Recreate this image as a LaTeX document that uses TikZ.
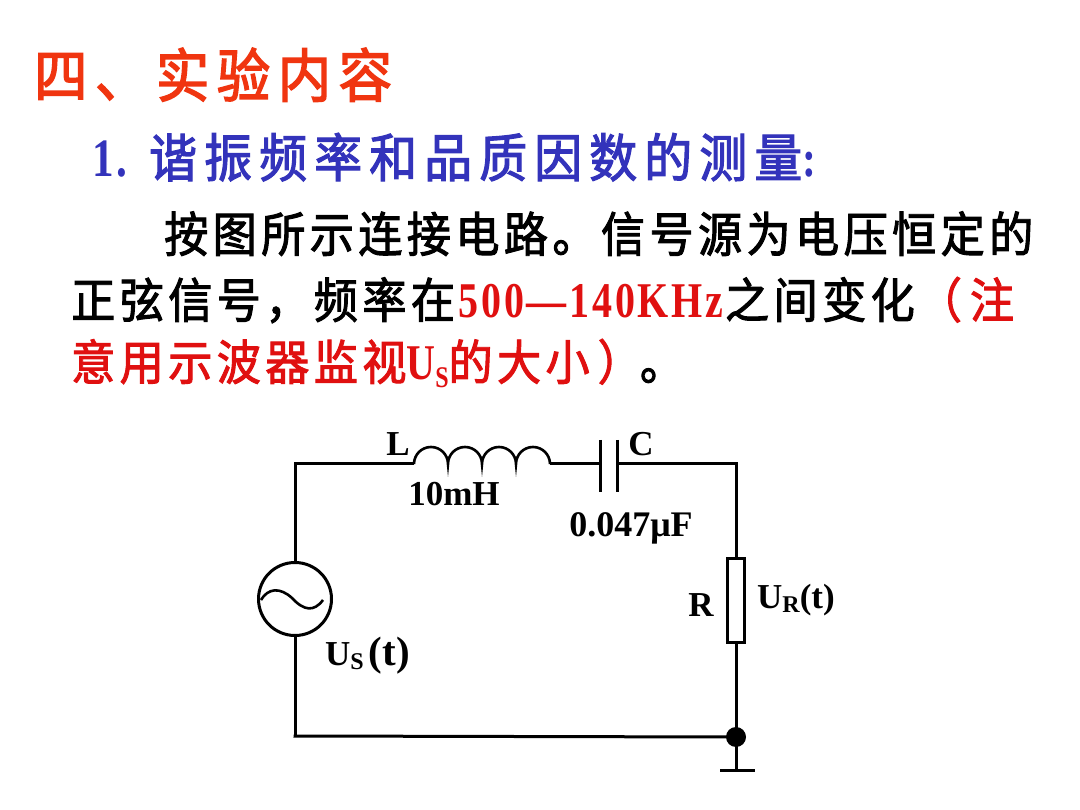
\documentclass[tikz,border=0pt]{standalone}
\usepackage{fontspec}
\setmainfont{Liberation Serif}
\newfontfamily\cjkT[FakeStretch=0.92,FakeBold=2.5,LetterSpace=13]{Noto Sans CJK SC}
\newfontfamily\cjkH[FakeStretch=0.92,FakeBold=2.2,LetterSpace=13.8]{Noto Sans CJK SC}
\newfontfamily\cjkB[FakeStretch=0.92,FakeBold=2.0,LetterSpace=9.1]{Noto Sans CJK SC}
\newfontfamily\latn[FakeStretch=0.8,LetterSpace=5.5]{Liberation Serif}
\definecolor{titlered}{HTML}{F03510}
\definecolor{headblue}{HTML}{3333BB}
\definecolor{notered}{HTML}{E01010}
\tikzset{
  wire/.style={line width=3pt,black},
  part/.style={line width=3pt,black,fill=white},
  lab/.style={font=\fontsize{35}{38}\selectfont\bfseries,inner sep=0pt,text=black},
  txt/.style={anchor=base west,inner sep=0pt},
}
\begin{document}
\begin{tikzpicture}[x=1pt,y=-1pt]
\useasboundingbox[fill=white] (0,0) rectangle (1080,810);
% text lines
\node[txt,text=titlered] (title) at (34,97) {\fontsize{58}{60}\selectfont\cjkT 四、实验内容};
\node[txt,text=headblue] (head) at (92,177) {\makebox[57pt][l]{\fontsize{54}{50}\selectfont\latn\bfseries 1.}\fontsize{52}{55}\selectfont\cjkH 谐振频率和品质因数的测量\makebox[10pt][l]{\latn\bfseries\hspace{0pt}:}};
\node[txt,text=black] (l1) at (164,252) {\fontsize{48}{50}\selectfont\cjkB 按图所示连接电路。信号源为电压恒定的};
\node[txt,text=black] (l2) at (71,318) {\fontsize{48}{50}\selectfont\cjkB 正弦信号，频率在\hspace{4pt}\makebox[264pt][c]{\fontsize{50}{50}\selectfont\color{notered}\latn\bfseries 500—140KHz}\hspace{2pt}之间变化\textcolor{notered}{\hspace{3pt}（\hspace{8pt}注}};
\node[txt,text=notered] (l3) at (71,380) {\fontsize{48}{50}\selectfont\cjkB 意用示波器监视\makebox[42pt][l]{\fontsize{50}{50}\selectfont\latn\bfseries U\raisebox{-8pt}{\fontsize{30}{30}\selectfont S}}的大小\hspace{8pt}）\hspace{-2pt}\textcolor{black}{。}};
% circuit nodes
\coordinate (tl) at (295,464);
\coordinate (tr) at (736,464);
\coordinate (bl) at (295,736);
\coordinate (indA) at (414,464);
\coordinate (indB) at (550,464);
\coordinate (capA) at (600,464);
\coordinate (capB) at (617,464);
\coordinate (capAt) at (600,440);
\coordinate (capAb) at (600,492);
\coordinate (capBt) at (617,440);
\coordinate (capBb) at (617,492);
\coordinate (gnd) at (736,770);
\coordinate (gndL) at (720,770);
\coordinate (gndR) at (755,770);
\node[draw,part,circle,minimum size=73pt,inner sep=0pt] (src) at (295,599) {};
\node[draw,part,rectangle,minimum width=17pt,minimum height=84pt,inner sep=0pt] (res) at (736,600) {};
\node[circle,fill=black,minimum size=20pt,inner sep=0pt] (dot) at (736,737) {};
% wires
\draw[wire] (indA) -- (tl) -- (src.north);
\draw[wire] (src.south) -- (bl);
\draw[wire] (293.5,736) -- (dot.center);
\draw[wire] (indB) -- (capA);
\draw[wire] (capB) -- (tr) -- (res.north);
\draw[wire] (res.south) -- (dot.center);
\draw[wire] (dot.center) -- (gnd);
\draw[wire] (gndL) -- (gndR);
\draw[wire] (capAt) -- (capAb);
\draw[wire] (capBt) -- (capBb);
% inductor
\draw[wire,line width=2.6pt] (indA) arc[start angle=180,end angle=360,x radius=17,y radius=17]
  arc[start angle=180,end angle=360,x radius=17,y radius=17]
  arc[start angle=180,end angle=360,x radius=17,y radius=17]
  arc[start angle=180,end angle=360,x radius=17,y radius=17];
% sine
\draw[line width=2.6pt] (261,600) .. controls (268,588) and (280,587) .. (292,598) .. controls (304,611) and (314,612) .. (323,600);
% labels
\node[lab] (L) at (398,444) {L};
\node[lab] (Lv) at (454,494) {10mH};
\node[lab] (C) at (641,444) {C};
\node[lab,font=\fontsize{36}{38}\selectfont\bfseries] (Cv) at (631,528) {0.047μF};
\node[lab] (R) at (701,605) {R};
\node[lab,anchor=base west] (UR) at (757,608) {U\raisebox{-4pt}{\fontsize{24}{24}\selectfont R}(t)};
\node[lab,anchor=base west] (US) at (325,665) {U\raisebox{-4pt}{\fontsize{24}{24}\selectfont S}\hspace{5pt}{\fontsize{41}{40}\selectfont (t)}};
\end{tikzpicture}
\end{document}
